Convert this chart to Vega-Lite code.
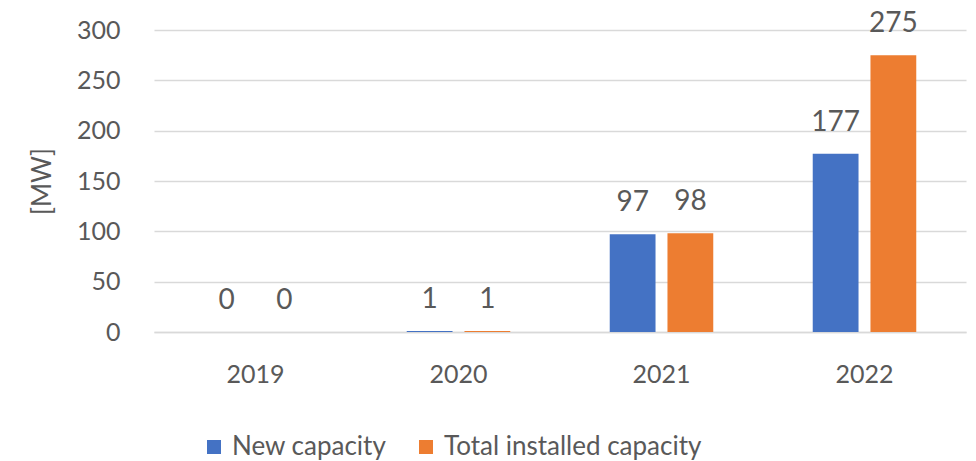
{
  "$schema": "https://vega.github.io/schema/vega-lite/v6.json",
  "autosize": "none",
  "width": 812,
  "height": 302,
  "padding": {"left": 154, "top": 30, "right": 10, "bottom": 129},
  "background": "white",
  "config": {
    "font": "Lato",
    "view": {"stroke": null}
  },
  "data": {
    "values": [
      {"year": "2019", "series": "New capacity", "value": 0},
      {"year": "2019", "series": "Total installed capacity", "value": 0},
      {"year": "2020", "series": "New capacity", "value": 1},
      {"year": "2020", "series": "Total installed capacity", "value": 1},
      {"year": "2021", "series": "New capacity", "value": 97},
      {"year": "2021", "series": "Total installed capacity", "value": 98},
      {"year": "2022", "series": "New capacity", "value": 177},
      {"year": "2022", "series": "Total installed capacity", "value": 275}
    ]
  },
  "encoding": {
    "x": {
      "field": "year", "type": "nominal",
      "scale": {"paddingInner": 0.49, "paddingOuter": 0.245},
      "axis": {
        "title": null, "labelAngle": 0, "ticks": false, "domain": true,
        "domainColor": "#d9d9d9", "domainWidth": 1.5,
        "labelFontSize": 25, "labelColor": "#595959", "labelPadding": 30, "grid": false
      }
    },
    "xOffset": {
      "field": "series", "type": "nominal",
      "scale": {"paddingInner": 0.207, "paddingOuter": 0}
    },
    "y": {
      "field": "value", "type": "quantitative",
      "scale": {"domain": [0, 300], "nice": false},
      "axis": {
        "title": "[MW]", "values": [0, 50, 100, 150, 200, 250, 300],
        "labelOverlap": false,
        "ticks": false, "domain": false,
        "gridColor": "#d9d9d9", "gridWidth": 1.5,
        "labelFontSize": 25, "labelColor": "#595959", "labelPadding": 34,
        "titleFontSize": 26, "titleFontWeight": "normal", "titleColor": "#595959",
        "titleX": -112, "titleY": 151, "titleAlign": "center", "titleBaseline": "middle"
      }
    }
  },
  "layer": [
    {
      "mark": {"type": "bar"},
      "encoding": {
        "color": {
          "field": "series", "type": "nominal",
          "scale": {"domain": ["New capacity", "Total installed capacity"], "range": ["#4472c4", "#ed7d31"]},
          "legend": {
            "title": null, "orient": "none", "direction": "horizontal",
            "legendX": 47, "legendY": 404,
            "symbolType": "square", "symbolSize": 196, "symbolStrokeWidth": 0,
            "labelFontSize": 26, "labelColor": "#595959", "labelOffset": 5,
            "columnPadding": 26, "labelLimit": 400
          }
        }
      }
    },
    {
      "mark": {"type": "text", "baseline": "alphabetic", "dy": -23, "fontSize": 28, "color": "#595959"},
      "encoding": {
        "text": {"field": "value", "type": "quantitative"}
      }
    }
  ]
}
